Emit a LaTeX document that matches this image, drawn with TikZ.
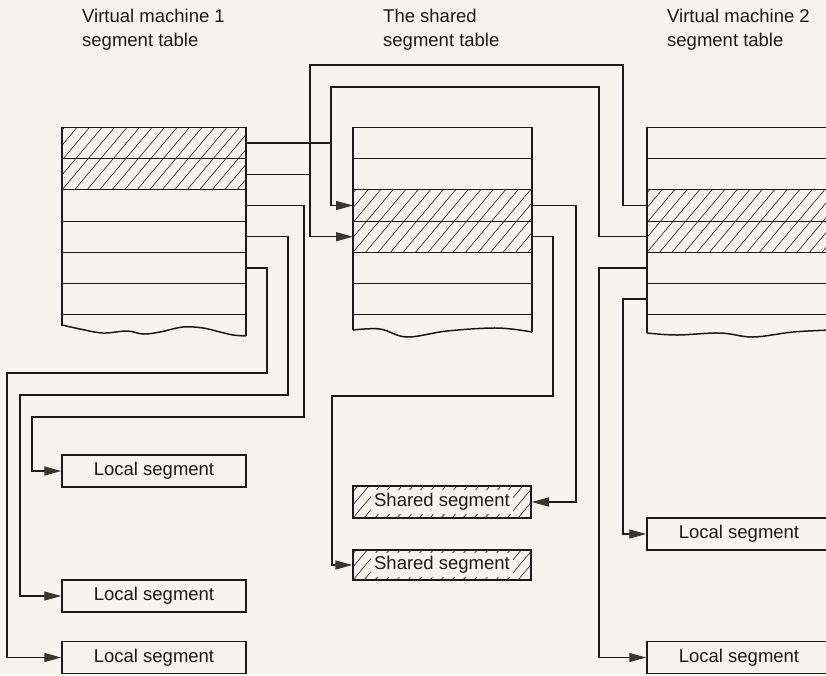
\documentclass[tikz,border=0pt]{standalone}
\usepackage{fontspec}
\setmainfont{Liberation Sans}
\usetikzlibrary{arrows.meta}
\definecolor{paper}{RGB}{246,244,236}
\definecolor{ink}{RGB}{28,26,24}
\definecolor{tip}{RGB}{60,52,46}
\tikzset{
  conn/.style={draw=ink, line width=1.3pt},
  arr/.style={conn, -{Triangle[length=17pt,width=9pt,fill=tip,color=tip]}},
  outline/.style={draw=ink, line width=1.5pt},
  rowline/.style={draw=ink, line width=1pt},
  hatchline/.style={draw=ink, line width=0.6pt},
  segbox/.style={outline, minimum width=184pt, minimum height=32pt, inner sep=0pt,
    text=ink, font=\fontsize{18.5}{21}\selectfont},
  sharedbox/.style={segbox, minimum width=178pt,
    path picture={\foreach \k in {-5,...,20}
      \draw[hatchline] ([xshift=\k*11pt]path picture bounding box.south west) -- ++(52,-62);}},
  ttl/.style={anchor=north west, align=left, inner sep=0pt, text=ink,
    font=\fontsize{18.5}{24}\selectfont},
}
\newcommand\hatchrect[4]{%
  \begin{scope}
    \clip (#1,#2) rectangle (#3,#4);
    \foreach \k in {-6,...,20}
      \draw[hatchline] ({#1+\k*12.5},#4) -- ++(60,-71.4);
  \end{scope}}
\begin{document}
\begin{tikzpicture}[x=1pt,y=-1pt]
  \path[use as bounding box, fill=paper] (0,0) rectangle (826,675);
  \clip (0,0) rectangle (826,675);

  % titles
  \node[ttl] (t1) at (82,9) {Virtual machine 1\\segment table};
  \node[ttl] (t2) at (383,9) {The shared\\segment table};
  \node[ttl] (t3) at (667,9) {Virtual machine 2\\segment table};

  % hatching of the tables
  \hatchrect{62}{127.5}{246}{189.9}
  \hatchrect{353}{189.9}{532}{252.3}
  \hatchrect{647}{189.9}{831}{252.3}

  % VM1 table
  \draw[outline] (62,326) -- (62,127.5) -- (246,127.5) -- (246,336);
  \draw[outline] plot[smooth, tension=0.6] coordinates {(62,325) (80,329) (103,333) (127,331) (143,334) (160,332) (183,327) (203,328) (220,332) (233,335) (246,336)};
  \foreach \y in {158.7,189.9,221.1,252.3,283.5,314.7}
    \draw[rowline] (62,\y) -- (246,\y);

  % shared table
  \draw[outline] (353,330) -- (353,127.5) -- (532,127.5) -- (532,332);
  \draw[outline] plot[smooth, tension=0.6] coordinates {(353,330) (380,329) (407,337) (447,331) (497,328) (532,332)};
  \foreach \y in {158.7,189.9,221.1,252.3,283.5,314.7}
    \draw[rowline] (353,\y) -- (532,\y);

  % VM2 table
  \draw[outline] (647,333) -- (647,127.5) -- (831,127.5);
  \draw[outline] plot[smooth, tension=0.6] coordinates {(647,333) (677,335) (720,333) (753,337) (793,332) (831,330)};
  \foreach \y in {158.7,189.9,221.1,252.3,283.5,314.7}
    \draw[rowline] (647,\y) -- (831,\y);

  % row anchor points
  \coordinate (a1) at (246,143.1);
  \coordinate (a2) at (246,174.3);
  \coordinate (a3) at (246,205.5);
  \coordinate (a4) at (246,236.7);
  \coordinate (a5) at (246,267.9);
  \coordinate (s3l) at (353,205.5);
  \coordinate (s4l) at (353,236.7);
  \coordinate (s3r) at (532,205.5);
  \coordinate (s4r) at (532,236.7);
  \coordinate (b3) at (647,205.5);
  \coordinate (b4) at (647,236.7);
  \coordinate (b5) at (647,267.9);
  \coordinate (b6) at (647,299.1);

  % segment boxes
  \node[segbox] (l1) at (154,471) {Local segment};
  \node[segbox] (l2) at (154,596) {Local segment};
  \node[segbox] (l3) at (154,657.5) {Local segment};
  \node[segbox] (r1) at (739,534) {Local segment};
  \node[segbox] (r2) at (739,657.5) {Local segment};
  \node[sharedbox] (sh1) at (442,502) {\setlength\fboxsep{3.5pt}\colorbox{paper}{Shared segment}};
  \node[sharedbox, minimum height=30pt] (sh2) at (442,565) {\setlength\fboxsep{3pt}\colorbox{paper}{Shared segment}};

  % connectors into the shared table
  \draw[arr] (b4) -| (599,87) -| (331,205.5) -- (s3l);
  \draw[conn] (a1) -- (331,143.1);
  \draw[arr] (b3) -| (623,65) -| (310,236.7) -- (s4l);
  \draw[conn] (a2) -- (310,174.3);

  % shared table to shared segments
  \draw[arr] (s3r) -| (576,502) -- (sh1.east);
  \draw[arr] (s4r) -| (553,396) -| (332,565) -- (sh2.west);

  % VM1 local segments
  \draw[arr] (a3) -| (304,417) -| (32,471) -- (l1.west);
  \draw[arr] (a4) -| (288,395) -| (20,596) -- (l2.west);
  \draw[arr] (a5) -| (267,373) -| (7,657.5) -- (l3.west);

  % VM2 local segments
  \draw[arr] (b5) -| (599,657.5) -- (r2.west);
  \draw[arr] (b6) -| (623,534) -- (r1.west);
\end{tikzpicture}
\end{document}
